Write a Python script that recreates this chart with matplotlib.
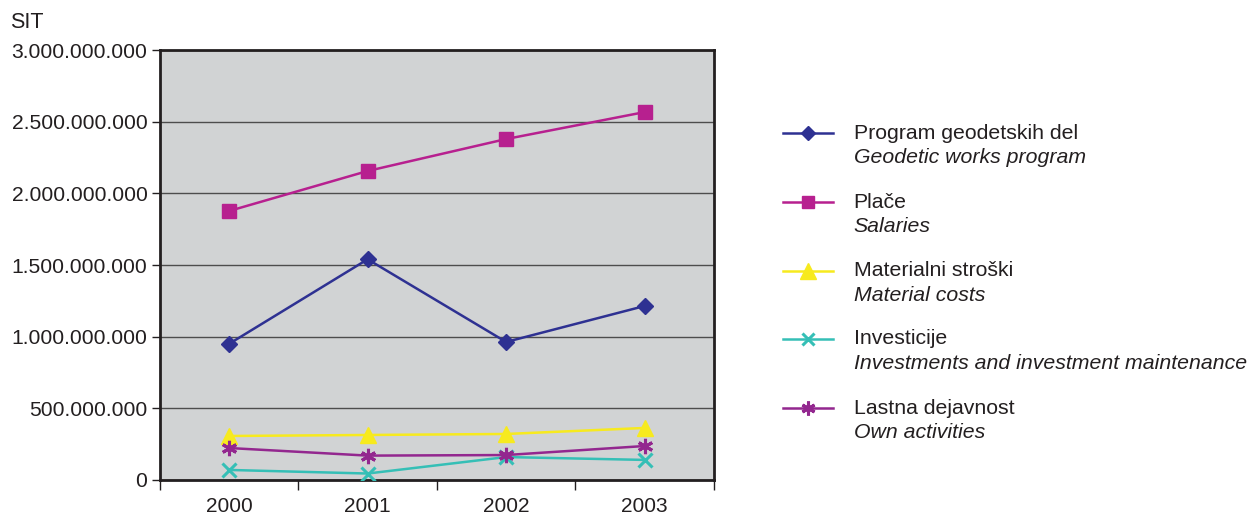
import matplotlib.pyplot as plt
from matplotlib.lines import Line2D
from matplotlib.ticker import FuncFormatter, FixedLocator

plt.rcParams['font.family'] = ['Liberation Sans', 'DejaVu Sans']

# Years and yearly amounts in SIT
years = ['2000', '2001', '2002', '2003']
program = [950000000, 1540000000, 963000000, 1214000000]
place = [1877000000, 2156000000, 2379000000, 2567000000]
material = [307000000, 314000000, 321000000, 363000000]
investicije = [70000000, 45000000, 160000000, 140000000]
lastna = [223000000, 170000000, 174000000, 237000000]

names_si = ['Program geodetskih del', 'Plače', 'Materialni stroški', 'Investicije', 'Lastna dejavnost']
names_en = ['Geodetic works program', 'Salaries', 'Material costs',
            'Investments and investment maintenance', 'Own activities']

series = [program, place, material, investicije, lastna]
colors = ['#2E3192', '#B7208F', '#F7EA1E', '#35BFB6', '#93278F']
markers = ['D', 's', '^', 'x', (6, 2, 0)]
msizes = [8, 10, 12, 10, 11]


def edge_width(m):
    return 2.2 if m in ('x', (6, 2, 0)) else 1


fig = plt.figure(figsize=(12.59, 5.18), dpi=100)
ax = fig.add_axes([0.127, 0.0734, 0.44, 0.83])
ax.set_facecolor('#D1D3D4')

x = list(range(len(years)))
for vals, c, m, ms in zip(series, colors, markers, msizes):
    ax.plot(x, vals, color=c, lw=1.8, marker=m, markersize=ms,
            markeredgewidth=edge_width(m), zorder=3)

ax.set_ylim(0, 3000000000)
ax.set_xlim(-0.5, 3.5)
ax.yaxis.set_major_locator(FixedLocator([i * 500000000 for i in range(7)]))
ax.yaxis.set_major_formatter(FuncFormatter(lambda v, p: f"{int(v):,}".replace(',', '.')))
ax.grid(axis='y', color='#4D4D4D', lw=1)
ax.set_axisbelow(True)

ax.xaxis.set_major_locator(FixedLocator([-0.5, 0.5, 1.5, 2.5, 3.5]))
ax.xaxis.set_major_formatter(FuncFormatter(lambda v, p: ''))
ax.set_xticks(x, minor=True)
ax.set_xticklabels(years, minor=True)
ax.tick_params(axis='x', which='minor', length=0, labelsize=15, pad=12, colors='#231F20')
ax.tick_params(axis='x', which='major', length=7, width=1, color='#231F20')
ax.tick_params(axis='y', length=6, width=1, labelsize=15.2, pad=3, colors='#231F20')

for s in ax.spines.values():
    s.set_linewidth(2)
    s.set_color('#231F20')

fig.text(0.008, 0.957, 'SIT', fontsize=15.5, va='center', color='#231F20')

# legend built by hand: plain Slovenian name with italic English line below
row_y = [0.743, 0.610, 0.477, 0.346, 0.212]
for i in range(len(series)):
    y = row_y[i]
    fig.add_artist(Line2D([0.622, 0.662], [y, y], transform=fig.transFigure,
                          color=colors[i], lw=1.8))
    fig.add_artist(Line2D([0.642], [y], transform=fig.transFigure, color=colors[i],
                          marker=markers[i], markersize=msizes[i] - 1,
                          markeredgewidth=edge_width(markers[i]), linestyle='none'))
    fig.text(0.678, y, names_si[i], fontsize=15.3, va='center', color='#231F20')
    fig.text(0.678, y - 0.047, names_en[i], fontsize=15.3, va='center',
             style='italic', color='#231F20')

plt.savefig('out.png', dpi=100)
